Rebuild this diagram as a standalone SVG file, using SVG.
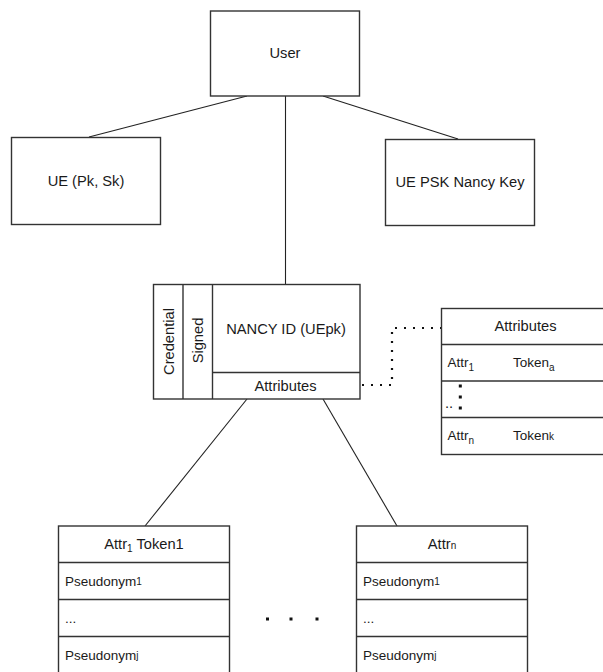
<svg xmlns="http://www.w3.org/2000/svg" width="603" height="672" viewBox="0 0 603 672">
  <style>
    .box { fill: #ffffff; stroke: #333333; stroke-width: 1.4; }
    .sep { stroke: #333333; stroke-width: 1.4; fill: none; }
    .link { stroke: #222222; stroke-width: 1.1; fill: none; }
    .dots { stroke: #111111; stroke-width: 2.2; fill: none; stroke-dasharray: 2 7; }
    text { font-family: "Liberation Sans", Arial, sans-serif; font-size: 14.7px; fill: #1a1a1a; }
    .row { font-size: 13.5px; }
    .c { text-anchor: middle; dominant-baseline: central; }
    .l { dominant-baseline: central; }
    .sm { font-size: 10px; }
  </style>

  <rect width="603" height="672" fill="#ffffff"/>

  <!-- connectors -->
  <g id="connectors">
    <line class="link" x1="247" y1="96" x2="89" y2="137"/>
    <line class="link" x1="323" y1="96" x2="458" y2="139"/>
    <line class="link" x1="285.5" y1="96" x2="285.5" y2="284"/>
    <line class="link" x1="247" y1="399" x2="145" y2="526"/>
    <line class="link" x1="323" y1="399" x2="397" y2="526"/>
    <polyline class="dots" points="362,385 392,385 392,328 441,328"/>
  </g>

  <g id="user">
    <rect class="box" x="210.5" y="11" width="149" height="85"/>
    <text class="c" x="285" y="53">User</text>
  </g>

  <g id="ue-keys">
    <rect class="box" x="11.5" y="137.5" width="149" height="87"/>
    <text class="c" x="86" y="181">UE (Pk, Sk)</text>
  </g>

  <g id="ue-psk">
    <rect class="box" x="385.5" y="139.5" width="149" height="86"/>
    <text class="c" x="460" y="182">UE PSK Nancy Key</text>
  </g>

  <g id="nancy-id">
    <rect class="box" x="153.5" y="284.5" width="206.5" height="114.5"/>
    <line class="sep" x1="183" y1="284.5" x2="183" y2="399"/>
    <line class="sep" x1="212.5" y1="284.5" x2="212.5" y2="399"/>
    <line class="sep" x1="212.5" y1="372.5" x2="360" y2="372.5"/>
    <text class="c" transform="translate(168.5,341.5) rotate(-90)" font-size="15px">Credential</text>
    <text class="c" transform="translate(198,340.5) rotate(-90)">Signed</text>
    <text class="c" x="286" y="329">NANCY ID (UEpk)</text>
    <text class="c" x="285.5" y="385.5">Attributes</text>
  </g>

  <g id="attribute-table">
    <rect class="box" x="441.5" y="308.5" width="170" height="146"/>
    <line class="sep" x1="441.5" y1="344.5" x2="611.5" y2="344.5"/>
    <line class="sep" x1="441.5" y1="381" x2="611.5" y2="381"/>
    <line class="sep" x1="441.5" y1="417.5" x2="611.5" y2="417.5"/>
    <text class="c" x="525.5" y="326">Attributes</text>
    <text class="row" x="447.5" y="367">Attr<tspan class="sm" dy="4">1</tspan></text>
    <text class="row" x="513" y="367">Token<tspan class="sm" dy="4">a</tspan></text>
    <text x="445" y="408" font-size="9">..</text>
    <rect x="458.8" y="384.5" width="3" height="3" fill="#111111"/>
    <rect x="458.8" y="395.5" width="3" height="3" fill="#111111"/>
    <rect x="458.8" y="406.5" width="3" height="3" fill="#111111"/>
    <text class="row" x="447.5" y="440">Attr<tspan class="sm" dy="4">n</tspan></text>
    <text class="row" x="513" y="440">Token<tspan class="sm">k</tspan></text>
  </g>

  <g id="attr1-pseudonyms">
    <rect class="box" x="58.5" y="526" width="171" height="150"/>
    <line class="sep" x1="58.5" y1="562.5" x2="229.5" y2="562.5"/>
    <line class="sep" x1="58.5" y1="599.5" x2="229.5" y2="599.5"/>
    <line class="sep" x1="58.5" y1="636.5" x2="229.5" y2="636.5"/>
    <text x="144" y="549" text-anchor="middle" font-size="14px">Attr<tspan class="sm" dy="3">1</tspan><tspan dy="-3"> Token1</tspan></text>
    <text class="l row" x="65" y="581">Pseudonym<tspan class="sm">1</tspan></text>
    <text class="l row" x="65" y="618">...</text>
    <text class="l row" x="65" y="655">Pseudonym<tspan class="sm">j</tspan></text>
  </g>

  <g id="ellipsis">
    <rect x="266" y="617.5" width="3" height="3" fill="#111111"/>
    <rect x="289.5" y="617.5" width="3" height="3" fill="#111111"/>
    <rect x="315.5" y="617.5" width="3" height="3" fill="#111111"/>
  </g>

  <g id="attrn-pseudonyms">
    <rect class="box" x="356.5" y="526" width="171" height="150"/>
    <line class="sep" x1="356.5" y1="562.5" x2="527.5" y2="562.5"/>
    <line class="sep" x1="356.5" y1="599.5" x2="527.5" y2="599.5"/>
    <line class="sep" x1="356.5" y1="636.5" x2="527.5" y2="636.5"/>
    <text x="442" y="549" text-anchor="middle" font-size="14px">Attr<tspan class="sm">n</tspan></text>
    <text class="l row" x="363" y="581">Pseudonym<tspan class="sm">1</tspan></text>
    <text class="l row" x="363" y="618">...</text>
    <text class="l row" x="363" y="655">Pseudonym<tspan class="sm">j</tspan></text>
  </g>
</svg>
